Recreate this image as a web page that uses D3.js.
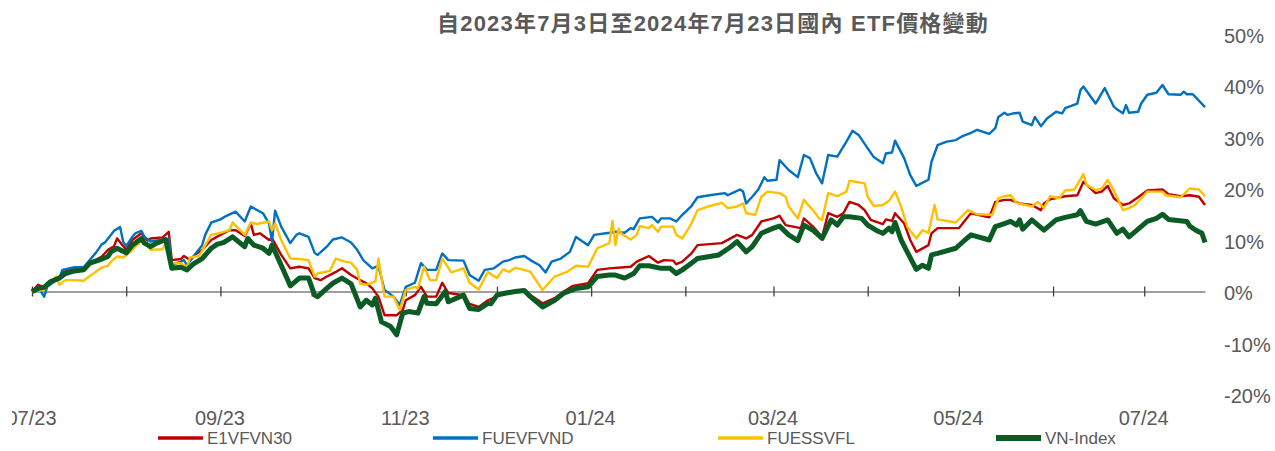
<!DOCTYPE html>
<html>
<head>
<meta charset="utf-8">
<script src="https://cdn.jsdelivr.net/npm/d3@7"></script>
<style>
  body { margin: 0; background: #fff; }
  svg { display: block; font-family: "Liberation Sans", Arial, "Noto Sans CJK TC", sans-serif; }
</style>
</head>
<body>
<div id="wrapper"></div>
<script>
const title = "自2023年7月3日至2024年7月23日國內 ETF價格變動";

const seriesNames = ["E1VFVN30", "FUEVFVND", "FUESSVFL", "VN-Index"];
const yTicks = [-20, -10, 0, 10, 20, 30, 40, 50];

// % change since 2023-07-03
const e1vfvn30 = [["2023-07-03",0],["2023-07-05",1.3],["2023-07-07",0.8],["2023-07-08",1.5],["2023-07-12",2.6],["2023-07-13",3.8],["2023-07-17",4.3],["2023-07-20",4.3],["2023-07-22",5.5],["2023-07-26",6.8],["2023-07-28",8.1],["2023-07-30",8.8],["2023-07-31",10.3],["2023-08-03",8.1],["2023-08-05",10.0],["2023-08-08",11.3],["2023-08-10",9.9],["2023-08-11",10.3],["2023-08-15",10.5],["2023-08-17",11.6],["2023-08-18",6.1],["2023-08-21",6.3],["2023-08-22",6.9],["2023-08-24",6.1],["2023-08-26",7.3],["2023-08-28",8.1],["2023-08-31",10.0],["2023-09-03",11.0],["2023-09-06",11.9],["2023-09-08",11.9],["2023-09-11",10.8],["2023-09-13",13.2],["2023-09-14",11.0],["2023-09-16",11.3],["2023-09-19",10.0],["2023-09-20",10.3],["2023-09-23",7.1],["2023-09-26",4.5],["2023-09-29",4.8],["2023-10-02",4.5],["2023-10-04",2.6],["2023-10-06",2.2],["2023-10-08",2.9],["2023-10-11",3.8],["2023-10-13",4.5],["2023-10-16",3.2],["2023-10-19",2.2],["2023-10-21",1.6],["2023-10-23",0.6],["2023-10-25",-1.0],["2023-10-27",-4.6],["2023-10-31",-4.6],["2023-11-02",-3.6],["2023-11-03",-1.7],["2023-11-06",-0.7],["2023-11-08",0.9],["2023-11-10",-1.0],["2023-11-13",-1.0],["2023-11-15",1.7],["2023-11-17",-0.3],["2023-11-22",-0.7],["2023-11-24",-2.4],["2023-11-27",-3.0],["2023-11-30",-1.7],["2023-12-03",-1.0],["2023-12-05",-0.3],["2023-12-09",0.0],["2023-12-12",0.3],["2023-12-14",-0.7],["2023-12-18",-2.3],["2023-12-22",-1.3],["2023-12-25",0.0],["2023-12-28",1.1],["2024-01-02",1.6],["2024-01-05",4.2],["2024-01-09",4.5],["2024-01-16",4.8],["2024-01-18",5.8],["2024-01-22",6.9],["2024-01-25",5.6],["2024-01-27",6.1],["2024-01-30",6.0],["2024-01-31",5.3],["2024-02-02",5.8],["2024-02-05",7.4],["2024-02-07",9.0],["2024-02-11",9.2],["2024-02-15",9.4],["2024-02-20",11.0],["2024-02-23",10.3],["2024-02-25",11.0],["2024-02-28",13.6],["2024-03-03",14.2],["2024-03-05",14.7],["2024-03-07",12.9],["2024-03-12",12.3],["2024-03-13",14.2],["2024-03-16",12.6],["2024-03-19",10.6],["2024-03-21",15.2],["2024-03-24",14.5],["2024-03-26",15.2],["2024-03-28",17.4],["2024-03-31",16.8],["2024-04-02",15.8],["2024-04-04",13.9],["2024-04-08",13.1],["2024-04-09",14.0],["2024-04-11",13.7],["2024-04-12",15.2],["2024-04-15",13.2],["2024-04-17",10.0],["2024-04-19",7.7],["2024-04-23",9.0],["2024-04-24",11.3],["2024-04-26",12.3],["2024-05-03",12.3],["2024-05-06",14.5],["2024-05-07",15.2],["2024-05-13",14.4],["2024-05-15",17.4],["2024-05-18",17.8],["2024-05-20",17.8],["2024-05-23",17.1],["2024-05-27",16.8],["2024-05-30",15.8],["2024-05-31",17.1],["2024-06-02",17.9],["2024-06-07",18.5],["2024-06-11",18.7],["2024-06-13",21.3],["2024-06-17",19.1],["2024-06-19",19.4],["2024-06-21",20.5],["2024-06-23",18.1],["2024-06-26",16.8],["2024-06-28",17.1],["2024-07-01",18.3],["2024-07-04",19.6],["2024-07-09",19.8],["2024-07-11",18.9],["2024-07-15",18.5],["2024-07-18",18.7],["2024-07-21",18.4],["2024-07-23",16.8]];

const fuevfvnd = [["2023-07-03",0],["2023-07-05",0.9],["2023-07-07",-1.0],["2023-07-08",0.9],["2023-07-12",2.6],["2023-07-13",4.2],["2023-07-17",4.7],["2023-07-20",4.7],["2023-07-22",6.1],["2023-07-24",7.5],["2023-07-26",9.2],["2023-07-27",9.5],["2023-07-29",11.0],["2023-07-30",11.8],["2023-08-01",12.5],["2023-08-02",9.7],["2023-08-03",8.8],["2023-08-05",10.6],["2023-08-06",11.3],["2023-08-08",11.8],["2023-08-09",10.6],["2023-08-11",9.7],["2023-08-13",9.9],["2023-08-16",10.0],["2023-08-17",10.3],["2023-08-18",5.1],["2023-08-21",5.8],["2023-08-22",6.1],["2023-08-23",5.1],["2023-08-26",7.5],["2023-08-28",9.0],["2023-08-29",11.0],["2023-08-31",13.4],["2023-09-03",14.0],["2023-09-05",14.7],["2023-09-08",15.5],["2023-09-11",13.6],["2023-09-13",16.5],["2023-09-17",15.2],["2023-09-19",13.2],["2023-09-20",9.7],["2023-09-21",15.7],["2023-09-23",12.6],["2023-09-26",9.4],["2023-09-28",11.0],["2023-09-29",11.3],["2023-10-02",10.6],["2023-10-04",7.5],["2023-10-05",7.1],["2023-10-08",8.7],["2023-10-10",10.1],["2023-10-13",10.5],["2023-10-16",9.5],["2023-10-18",8.1],["2023-10-20",6.1],["2023-10-23",4.5],["2023-10-25",5.0],["2023-10-27",0.3],["2023-10-30",-1.0],["2023-11-01",-2.6],["2023-11-03",0.9],["2023-11-06",1.7],["2023-11-08",5.5],["2023-11-10",4.2],["2023-11-13",4.2],["2023-11-15",7.4],["2023-11-17",6.1],["2023-11-22",6.0],["2023-11-24",3.2],["2023-11-27",2.1],["2023-11-29",4.2],["2023-12-02",4.5],["2023-12-05",5.8],["2023-12-07",6.1],["2023-12-09",6.6],["2023-12-12",6.9],["2023-12-14",6.1],["2023-12-17",5.1],["2023-12-19",3.7],["2023-12-21",5.8],["2023-12-24",6.4],["2023-12-27",7.7],["2023-12-29",10.6],["2024-01-02",9.0],["2024-01-04",11.0],["2024-01-09",11.4],["2024-01-11",11.6],["2024-01-14",11.4],["2024-01-16",12.3],["2024-01-17",12.1],["2024-01-19",14.2],["2024-01-23",14.5],["2024-01-25",13.4],["2024-01-26",14.2],["2024-01-29",14.2],["2024-01-31",13.6],["2024-02-02",14.9],["2024-02-05",16.6],["2024-02-07",18.3],["2024-02-11",18.7],["2024-02-16",19.1],["2024-02-17",18.7],["2024-02-21",19.8],["2024-02-22",19.4],["2024-02-23",17.1],["2024-02-25",18.4],["2024-02-27",19.8],["2024-02-29",22.2],["2024-03-01",21.5],["2024-03-04",21.7],["2024-03-05",25.5],["2024-03-08",23.6],["2024-03-11",22.2],["2024-03-13",26.5],["2024-03-15",25.9],["2024-03-17",23.0],["2024-03-19",21.0],["2024-03-21",26.5],["2024-03-24",26.2],["2024-03-27",29.1],["2024-03-29",31.2],["2024-03-31",30.4],["2024-04-03",27.8],["2024-04-05",26.1],["2024-04-08",24.9],["2024-04-09",26.8],["2024-04-11",27.0],["2024-04-12",29.3],["2024-04-15",25.9],["2024-04-17",22.6],["2024-04-19",20.5],["2024-04-23",21.7],["2024-04-24",25.2],["2024-04-26",28.4],["2024-04-29",29.1],["2024-05-02",29.4],["2024-05-04",30.1],["2024-05-07",30.8],["2024-05-09",31.4],["2024-05-13",30.6],["2024-05-15",31.7],["2024-05-16",33.9],["2024-05-18",34.7],["2024-05-19",34.3],["2024-05-21",34.6],["2024-05-23",34.7],["2024-05-24",33.0],["2024-05-27",32.3],["2024-05-28",33.9],["2024-05-30",32.1],["2024-06-01",33.6],["2024-06-04",34.9],["2024-06-06",34.6],["2024-06-07",35.6],["2024-06-11",36.5],["2024-06-12",39.1],["2024-06-13",39.8],["2024-06-17",36.5],["2024-06-20",39.5],["2024-06-23",35.9],["2024-06-24",35.4],["2024-06-26",34.6],["2024-06-27",36.2],["2024-06-28",34.7],["2024-07-01",34.9],["2024-07-02",36.5],["2024-07-04",38.2],["2024-07-07",38.6],["2024-07-09",40.1],["2024-07-11",38.3],["2024-07-15",38.2],["2024-07-16",38.8],["2024-07-17",38.3],["2024-07-19",38.3],["2024-07-23",35.8]];

const fuessvfl = [["2023-07-03",0],["2023-07-07",0.3],["2023-07-08",1.3],["2023-07-11",2.9],["2023-07-12",1.3],["2023-07-14",2.2],["2023-07-17",2.2],["2023-07-20",2.1],["2023-07-22",3.0],["2023-07-24",3.8],["2023-07-26",4.7],["2023-07-28",5.0],["2023-07-29",5.8],["2023-07-31",6.8],["2023-08-02",6.6],["2023-08-04",7.5],["2023-08-06",8.7],["2023-08-08",9.7],["2023-08-10",9.0],["2023-08-11",8.1],["2023-08-15",8.2],["2023-08-16",9.4],["2023-08-18",5.5],["2023-08-21",5.5],["2023-08-23",4.7],["2023-08-24",6.6],["2023-08-27",6.9],["2023-08-29",9.0],["2023-08-31",11.0],["2023-09-03",11.4],["2023-09-06",11.9],["2023-09-07",13.4],["2023-09-11",11.0],["2023-09-13",13.4],["2023-09-15",13.1],["2023-09-19",13.6],["2023-09-20",11.9],["2023-09-21",13.2],["2023-09-23",10.0],["2023-09-26",6.4],["2023-09-29",6.3],["2023-10-02",6.1],["2023-10-04",2.9],["2023-10-05",3.5],["2023-10-09",4.0],["2023-10-11",6.4],["2023-10-14",5.8],["2023-10-16",5.6],["2023-10-18",4.2],["2023-10-19",1.5],["2023-10-21",1.3],["2023-10-24",1.9],["2023-10-25",6.4],["2023-10-27",-1.0],["2023-10-30",-1.0],["2023-11-01",-3.6],["2023-11-03",0.3],["2023-11-06",0.9],["2023-11-07",0.6],["2023-11-09",4.8],["2023-11-11",2.2],["2023-11-13",2.2],["2023-11-15",6.4],["2023-11-18",3.7],["2023-11-22",4.5],["2023-11-24",1.7],["2023-11-27",0.4],["2023-11-30",3.8],["2023-12-03",2.6],["2023-12-05",4.3],["2023-12-07",3.8],["2023-12-09",4.6],["2023-12-12",4.2],["2023-12-14",3.8],["2023-12-18",0.3],["2023-12-20",1.6],["2023-12-22",2.9],["2023-12-26",3.8],["2023-12-29",5.0],["2024-01-02",4.8],["2024-01-05",8.4],["2024-01-09",9.4],["2024-01-10",13.7],["2024-01-11",9.0],["2024-01-12",12.2],["2024-01-13",11.2],["2024-01-16",10.1],["2024-01-18",11.0],["2024-01-19",12.7],["2024-01-22",12.3],["2024-01-23",12.9],["2024-01-25",11.6],["2024-01-26",12.6],["2024-01-30",12.6],["2024-01-31",11.0],["2024-02-02",10.3],["2024-02-05",13.2],["2024-02-07",15.8],["2024-02-11",16.6],["2024-02-15",17.2],["2024-02-17",16.2],["2024-02-20",16.5],["2024-02-22",17.1],["2024-02-23",15.2],["2024-02-26",14.9],["2024-02-28",18.4],["2024-03-01",19.4],["2024-03-05",19.1],["2024-03-07",18.4],["2024-03-08",16.5],["2024-03-11",14.2],["2024-03-13",17.8],["2024-03-14",17.1],["2024-03-16",15.8],["2024-03-18",14.2],["2024-03-19",13.9],["2024-03-21",19.1],["2024-03-24",18.5],["2024-03-27",19.4],["2024-03-28",21.5],["2024-04-02",21.0],["2024-04-03",18.4],["2024-04-05",16.6],["2024-04-08",16.8],["2024-04-10",17.6],["2024-04-12",19.4],["2024-04-14",16.5],["2024-04-16",12.6],["2024-04-19",10.3],["2024-04-21",11.9],["2024-04-23",11.4],["2024-04-25",16.8],["2024-04-26",14.0],["2024-05-02",13.4],["2024-05-06",15.8],["2024-05-09",15.0],["2024-05-14",14.9],["2024-05-16",18.1],["2024-05-18",18.5],["2024-05-20",18.7],["2024-05-22",17.2],["2024-05-25",16.8],["2024-05-27",16.5],["2024-05-29",17.4],["2024-05-31",16.2],["2024-06-02",18.5],["2024-06-05",18.1],["2024-06-07",19.6],["2024-06-10",19.8],["2024-06-13",22.8],["2024-06-14",20.7],["2024-06-17",19.7],["2024-06-19",20.0],["2024-06-21",21.7],["2024-06-23",19.6],["2024-06-26",15.8],["2024-06-28",16.2],["2024-06-30",16.8],["2024-07-03",18.7],["2024-07-04",19.4],["2024-07-09",19.4],["2024-07-10",18.7],["2024-07-15",18.3],["2024-07-18",20.0],["2024-07-21",19.8],["2024-07-23",18.5]];

const vnIndex = [["2023-07-03",0],["2023-07-05",0.6],["2023-07-07",0.8],["2023-07-09",1.9],["2023-07-12",2.6],["2023-07-14",3.5],["2023-07-17",4.0],["2023-07-20",4.2],["2023-07-22",5.5],["2023-07-26",6.3],["2023-07-28",6.8],["2023-07-29",7.7],["2023-07-31",8.4],["2023-08-03",7.5],["2023-08-05",9.0],["2023-08-08",10.3],["2023-08-09",9.4],["2023-08-11",8.7],["2023-08-13",9.4],["2023-08-16",10.1],["2023-08-18",4.5],["2023-08-21",4.7],["2023-08-23",4.2],["2023-08-25",5.3],["2023-08-28",6.4],["2023-08-31",8.4],["2023-09-02",9.2],["2023-09-04",9.5],["2023-09-07",10.6],["2023-09-11",8.7],["2023-09-12",10.3],["2023-09-14",9.0],["2023-09-17",8.4],["2023-09-19",7.4],["2023-09-20",9.0],["2023-09-23",5.1],["2023-09-26",1.1],["2023-09-29",2.6],["2023-10-02",2.6],["2023-10-04",-0.7],["2023-10-05",-1.0],["2023-10-08",0.6],["2023-10-10",1.6],["2023-10-13",2.6],["2023-10-16",1.5],["2023-10-19",-3.0],["2023-10-21",-1.7],["2023-10-23",-2.6],["2023-10-24",-1.3],["2023-10-26",-5.9],["2023-10-29",-6.8],["2023-10-31",-8.4],["2023-11-02",-4.2],["2023-11-04",-3.9],["2023-11-07",-4.2],["2023-11-09",-1.0],["2023-11-10",-2.3],["2023-11-13",-2.4],["2023-11-16",0.0],["2023-11-17",-2.0],["2023-11-22",-0.7],["2023-11-24",-3.3],["2023-11-27",-3.5],["2023-11-30",-2.3],["2023-12-01",-2.4],["2023-12-03",-0.7],["2023-12-06",-0.3],["2023-12-09",0.0],["2023-12-12",0.2],["2023-12-14",-1.0],["2023-12-18",-3.0],["2023-12-22",-1.7],["2023-12-25",-0.3],["2023-12-29",0.6],["2024-01-02",0.9],["2024-01-05",2.9],["2024-01-09",3.2],["2024-01-11",3.2],["2024-01-14",2.6],["2024-01-17",3.5],["2024-01-19",5.0],["2024-01-22",5.0],["2024-01-26",4.5],["2024-01-29",4.5],["2024-01-31",3.5],["2024-02-02",4.2],["2024-02-05",5.5],["2024-02-07",6.4],["2024-02-11",6.8],["2024-02-14",7.1],["2024-02-18",8.7],["2024-02-20",9.7],["2024-02-23",7.7],["2024-02-25",8.7],["2024-02-28",11.3],["2024-03-03",12.3],["2024-03-05",12.7],["2024-03-08",11.0],["2024-03-11",9.9],["2024-03-13",12.9],["2024-03-16",11.9],["2024-03-19",10.3],["2024-03-22",13.9],["2024-03-24",12.9],["2024-03-26",14.5],["2024-03-28",14.5],["2024-04-01",14.2],["2024-04-03",12.9],["2024-04-06",11.8],["2024-04-08",11.3],["2024-04-10",12.3],["2024-04-11",11.6],["2024-04-12",13.4],["2024-04-14",10.0],["2024-04-16",7.7],["2024-04-19",4.3],["2024-04-21",5.1],["2024-04-23",4.5],["2024-04-24",7.1],["2024-04-26",7.4],["2024-05-02",8.4],["2024-05-05",10.0],["2024-05-07",11.0],["2024-05-13",10.0],["2024-05-15",12.6],["2024-05-18",13.2],["2024-05-20",13.6],["2024-05-22",12.9],["2024-05-23",13.9],["2024-05-24",12.1],["2024-05-27",13.9],["2024-05-31",11.9],["2024-06-04",13.9],["2024-06-07",14.4],["2024-06-11",14.9],["2024-06-12",15.7],["2024-06-14",13.6],["2024-06-17",13.1],["2024-06-21",13.9],["2024-06-24",11.3],["2024-06-26",12.1],["2024-06-28",10.6],["2024-07-01",12.1],["2024-07-04",13.6],["2024-07-07",14.2],["2024-07-09",15.0],["2024-07-11",14.0],["2024-07-17",13.6],["2024-07-18",12.7],["2024-07-20",11.9],["2024-07-22",11.3],["2024-07-23",9.5]];

const seriesData = [e1vfvn30, fuevfvnd, fuessvfl, vnIndex];
const seriesColors = ["#C00000", "#0070C0", "#FFC000", "#0B5B25"];
const seriesWidths = [2.4, 2.4, 2.4, 5];

const parseDate = d3.timeParse("%Y-%m-%d");
const xAccessor = d => parseDate(d[0]);
const yAccessor = d => d[1];

const dimensions = {
  width: 1275,
  height: 451,
  plotLeft: 32,
  plotRight: 1205,
  plotTop: 34,
  plotBottom: 394.5,
};

const firstDate = parseDate("2023-07-03");
const lastDate = parseDate("2024-07-23");

const xScale = d3.scaleTime()
  .domain([firstDate, lastDate])
  .range([dimensions.plotLeft, dimensions.plotRight]);

const yScale = d3.scaleLinear()
  .domain([-20, 50])
  .range([dimensions.plotBottom, dimensions.plotTop]);

// Excel date axis: a tick every month, counted from the first date (the 3rd)
const tickDates = d3.range(13).map(i => d3.timeMonth.offset(firstDate, i));
const formatMonth = d3.timeFormat("%m/%y");

const wrapper = d3.select("#wrapper")
  .append("svg")
  .attr("width", dimensions.width)
  .attr("height", dimensions.height);

wrapper.append("text")
  .attr("x", 713)
  .attr("y", 31)
  .attr("text-anchor", "middle")
  .attr("fill", "#595959")
  .style("font-size", "22px")
  .style("font-weight", "bold")
  .style("letter-spacing", "1.2px")
  .text(title);

// right-hand y labels
wrapper.append("g")
  .selectAll("text")
  .data(yTicks)
  .join("text")
  .attr("x", 1224)
  .attr("y", d => yScale(d) + 1.5)
  .attr("dominant-baseline", "central")
  .attr("fill", "#595959")
  .style("font-size", "20px")
  .text(d => d + "%");

// zero line with month ticks
const xAxisGenerator = d3.axisBottom(xScale)
  .tickValues(tickDates)
  .tickSizeOuter(0)
  .tickFormat("");

const xAxis = wrapper.append("g")
  .attr("transform", `translate(0, ${yScale(0)})`)
  .call(xAxisGenerator);
xAxis.select(".domain").attr("stroke", "#7f7f7f").attr("stroke-width", 1.5);
xAxis.selectAll(".tick line")
  .attr("y1", -5)
  .attr("y2", 5)
  .attr("stroke", "#404040")
  .attr("stroke-width", 1.3);

// month labels at the bottom, every other month
wrapper.append("clipPath")
  .attr("id", "label-clip")
  .append("rect")
  .attr("x", 12).attr("y", 400).attr("width", 1263).attr("height", 40);

const labelAxis = wrapper.append("g")
  .attr("clip-path", "url(#label-clip)")
  .append("g")
  .attr("transform", `translate(-1, 411)`)
  .call(d3.axisBottom(xScale)
    .tickValues(tickDates.filter((d, i) => i % 2 === 0))
    .tickSize(0)
    .tickPadding(0)
    .tickFormat(formatMonth));
labelAxis.select(".domain").remove();
labelAxis.selectAll("text")
  .attr("fill", "#595959")
  .attr("dy", "0.71em")
  .style("font-size", "20px")
  .style("font-family", "'Liberation Sans', Arial, sans-serif");

const lineGenerator = d3.line()
  .x(d => xScale(xAccessor(d)))
  .y(d => yScale(yAccessor(d)));

const bounds = wrapper.append("g");
bounds.selectAll("path.series")
  .data(seriesData)
  .join("path")
  .attr("class", "series")
  .attr("fill", "none")
  .attr("stroke", (d, i) => seriesColors[i])
  .attr("stroke-width", (d, i) => seriesWidths[i])
  .attr("stroke-linejoin", "round")
  .attr("d", lineGenerator);

// legend
const legendX = [158, 433, 718, 996];
const legend = wrapper.append("g")
  .selectAll("g")
  .data(seriesNames)
  .join("g")
  .attr("transform", (d, i) => `translate(${legendX[i]}, 438)`);

legend.append("line")
  .attr("x1", 0).attr("x2", 45)
  .attr("stroke", (d, i) => seriesColors[i])
  .attr("stroke-width", (d, i) => seriesWidths[i] + 1);

legend.append("text")
  .attr("x", 49)
  .attr("dominant-baseline", "central")
  .attr("fill", "#595959")
  .style("font-size", "17px")
  .text(d => d);
</script>
</body>
</html>
